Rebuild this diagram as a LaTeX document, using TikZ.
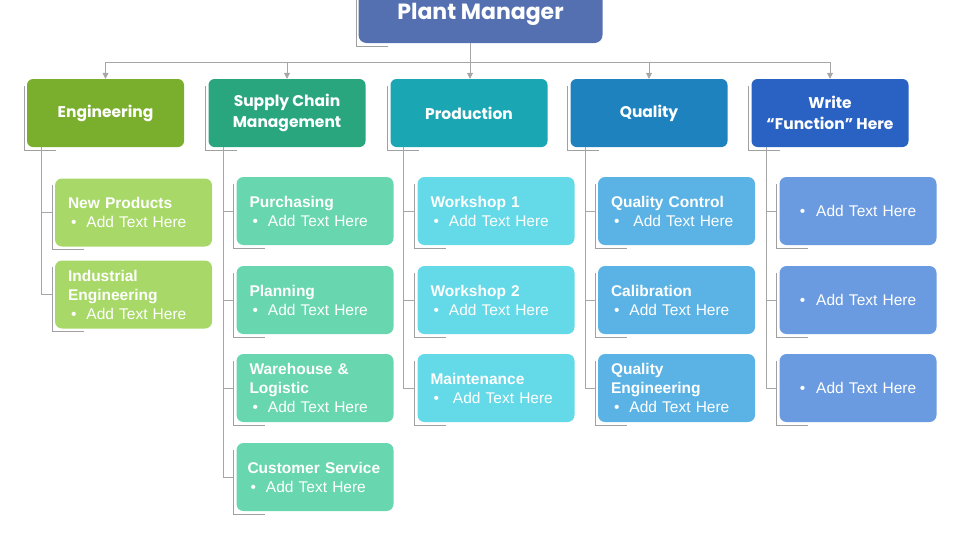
\documentclass[tikz,border=0pt]{standalone}
\usepackage{fontspec}
\setmainfont{Liberation Sans}
\newfontfamily\headfont{Poppins}
\usetikzlibrary{calc,arrows.meta}
\definecolor{pmcol}{HTML}{5570B0}
\definecolor{engcol}{HTML}{79AF2C}
\definecolor{engchild}{HTML}{A8D968}
\definecolor{supcol}{HTML}{2AA67E}
\definecolor{supchild}{HTML}{68D7B0}
\definecolor{procol}{HTML}{1BA6B3}
\definecolor{prochild}{HTML}{64D9E7}
\definecolor{qualcol}{HTML}{1E82BF}
\definecolor{qualchild}{HTML}{5BB3E5}
\definecolor{wricol}{HTML}{2A62C4}
\definecolor{wrichild}{HTML}{6A9AE0}
\definecolor{linegray}{HTML}{A6A6A6}
\definecolor{brkgray}{HTML}{A0A0A0}
\newcommand{\bulletline}[1][10pt]{\hspace{3pt}\textbullet\hspace{#1}Add Text Here}
\begin{document}
\begin{tikzpicture}[x=1pt,y=-1pt,
  lvltwo/.style={rounded corners=6pt, minimum width=157pt, minimum height=68pt, inner sep=0pt, align=center, text=white, font=\headfont\bfseries\fontsize{15.5}{21}\selectfont},
  childbox/.style={rounded corners=7pt, minimum width=157pt, minimum height=68pt, inner xsep=13pt, inner ysep=0pt, text width=131pt, align=left, text=white, font=\fontsize{15.5}{19}\selectfont},
  centerbox/.style={childbox, align=center},
  conn/.style={draw=linegray, line width=0.8pt},
  arr/.style={conn, -{Triangle[length=6pt,width=6pt]}},
  brk/.style={draw=brkgray, line width=0.6pt}
]
\useasboundingbox (0,0) rectangle (960,552);

% Plant manager
\node[rounded corners=8pt, fill=pmcol, minimum width=244pt, minimum height=58pt, inner sep=0pt, text=white, font=\headfont\bfseries\fontsize{22}{26}\selectfont] (pm) at (480.5,14) {Plant Manager};

% level 2
\node[lvltwo, fill=engcol] (eng) at (105.5,113) {Engineering};
\node[lvltwo, fill=supcol] (sup) at (287,113) {Supply Chain\\Management};
\node[lvltwo, fill=procol] (pro) at (469,113) {Production};
\node[lvltwo, fill=qualcol] (qua) at (649,113) {Quality};
\node[lvltwo, fill=wricol] (wri) at (830,113) {Write\\“Function” Here};

% engineering children
\node[childbox, fill=engchild] (np) at (133.5,212.5) {\textbf{New Products}\\\bulletline};
\node[childbox, fill=engchild] (ie) at (133.5,294.5) {\textbf{Industrial}\\\textbf{Engineering}\\\bulletline};

% supply chain children
\node[childbox, fill=supchild] (pur) at (315,211) {\textbf{Purchasing}\\\bulletline};
\node[childbox, fill=supchild] (pla) at (315,300) {\textbf{Planning}\\\bulletline};
\node[childbox, fill=supchild] (war) at (315,388) {\textbf{Warehouse \&}\\\textbf{Logistic}\\\bulletline};
\node[childbox, fill=supchild, inner xsep=11pt, text width=135pt] (cus) at (315,477) {\textbf{Customer Service}\\\bulletline};

% production children
\node[childbox, fill=prochild] (ws1) at (496,211) {\textbf{Workshop 1}\\\bulletline};
\node[childbox, fill=prochild] (ws2) at (496,300) {\textbf{Workshop 2}\\\bulletline};
\node[childbox, fill=prochild] (mnt) at (496,388) {\textbf{Maintenance}\\\bulletline[14pt]};

% quality children
\node[childbox, fill=qualchild] (qc) at (676.5,211) {\textbf{Quality Control}\\\bulletline[14pt]};
\node[childbox, fill=qualchild] (cal) at (676.5,300) {\textbf{Calibration}\\\bulletline};
\node[childbox, fill=qualchild] (qe) at (676.5,388) {\textbf{Quality}\\\textbf{Engineering}\\\bulletline};

% write children
\node[centerbox, fill=wrichild] (w1) at (858,211) {\textbullet\hspace{11pt}Add Text Here};
\node[centerbox, fill=wrichild] (w2) at (858,300) {\textbullet\hspace{11pt}Add Text Here};
\node[centerbox, fill=wrichild] (w3) at (858,388) {\textbullet\hspace{11pt}Add Text Here};

% brackets
\foreach \n in {eng,sup,pro,qua,wri,np,ie,pur,pla,war,cus,ws1,ws2,mnt,qc,cal,qe,w1,w2,w3}{
  \draw[brk] ($(\n.north west)+(-3,7)$) -- ($(\n.south west)+(-3,3)$) -- ($(\n.south west)+(29,3)$);
}
\draw[brk] ($(pm.north west)+(-2,0)$) -- ($(pm.south west)+(-2,3)$) -- ($(pm.south west)+(30,3)$);

% top connectors
\coordinate (pmout) at (470,43);
\coordinate (bus) at (470,62);
\draw[arr] (pmout) -- (pro.north -| pmout);
\draw[arr] (bus) -| (eng.north);
\draw[arr] (bus) -| (sup.north);
\draw[arr] (bus) -| (qua.north);
\draw[arr] (bus) -| (wri.north);

% trunks
\coordinate (tEng) at ($(eng.south west)+(15,0)$);
\coordinate (tSup) at ($(sup.south west)+(15,0)$);
\coordinate (tPro) at ($(pro.south west)+(13,0)$);
\coordinate (tQua) at ($(qua.south west)+(15,0)$);
\coordinate (tWri) at ($(wri.south west)+(15,0)$);
\foreach \c in {np,ie}{\draw[conn] (tEng) |- ($(\c.west)+(-2,0)$);}
\foreach \c in {pur,pla,war,cus}{\draw[conn] (tSup) |- ($(\c.west)+(-2,0)$);}
\foreach \c in {ws1,ws2,mnt}{\draw[conn] (tPro) |- ($(\c.west)+(-2,0)$);}
\foreach \c in {qc,cal,qe}{\draw[conn] (tQua) |- ($(\c.west)+(-2,0)$);}
\foreach \c in {w1,w2,w3}{\draw[conn] (tWri) |- ($(\c.west)+(-2,0)$);}
\end{tikzpicture}
\end{document}
